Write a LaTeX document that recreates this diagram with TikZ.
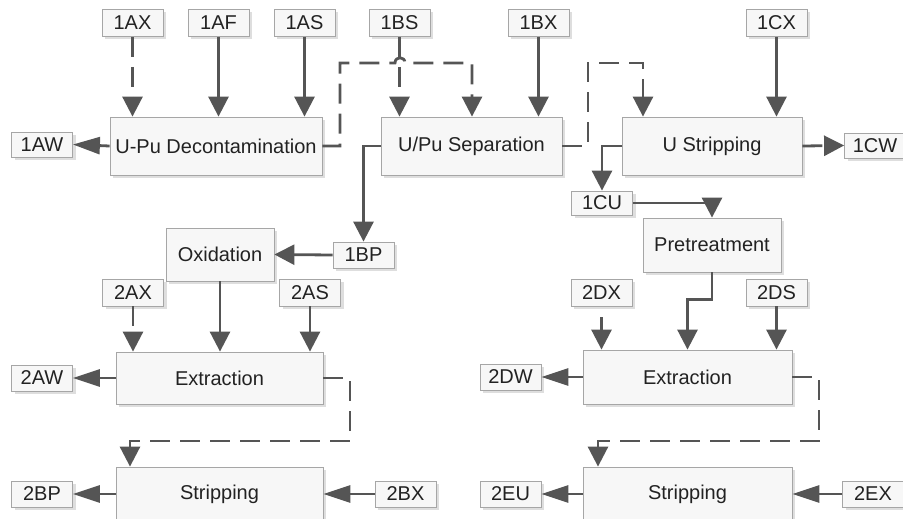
\documentclass[tikz,border=0pt]{standalone}
\usepackage{fontspec}
\setmainfont{Liberation Sans}
\usetikzlibrary{arrows.meta,shadows}
\definecolor{linegray}{HTML}{555555}
\definecolor{boxline}{HTML}{A6A6A6}
\definecolor{boxfill}{HTML}{F7F7F7}
\definecolor{shade}{HTML}{DEDEDE}
\definecolor{inkgray}{HTML}{222222}
\begin{document}
\begin{tikzpicture}[x=1pt,y=-1pt,
  base/.style={draw=boxline, line width=0.8pt, fill=boxfill, text=inkgray,
    inner sep=0pt, font=\fontsize{20}{22}\selectfont,
    drop shadow={shadow xshift=3pt, shadow yshift=-3pt, fill=shade, opacity=1}},
  tag/.style={base, minimum width=61pt, minimum height=27pt},
  unit/.style={base},
  flow/.style={draw=linegray, line width=2.8pt,
    -{Triangle[length=20pt,width=20pt]}},
  outflow/.style={draw=linegray, line width=2.8pt,
    -{Triangle[length=27pt,width=17pt]}},
  dashflow/.style={flow, dash pattern=on 20pt off 10pt},
]
\useasboundingbox (0,0) rectangle (903,519);

% process units
\node[unit, minimum width=212pt, minimum height=58pt] (decon) at (216,146) {U-Pu Decontamination};
\node[unit, minimum width=181pt, minimum height=58pt] (usep) at (471.5,146) {U/Pu Separation};
\node[unit, minimum width=180pt, minimum height=58pt] (ustrip) at (712,146) {U Stripping};
\node[unit, minimum width=108pt, minimum height=53pt] (oxid) at (220,254.5) {Oxidation};
\node[unit, minimum width=138pt, minimum height=54pt] (pret) at (712,245) {Pretreatment};
\node[unit, minimum width=207pt, minimum height=52pt] (extrL) at (219.5,378) {Extraction};
\node[unit, minimum width=209pt, minimum height=54pt] (extrR) at (687.5,377) {Extraction};
\node[unit, minimum width=207pt, minimum height=54pt] (stripL) at (219.5,494) {Stripping};
\node[unit, minimum width=209pt, minimum height=54pt] (stripR) at (687.5,494) {Stripping};

% stream tags
\node[tag] (t1AX) at (132.5,23) {1AX};
\node[tag] (t1AF) at (218.5,23) {1AF};
\node[tag] (t1AS) at (304.5,23) {1AS};
\node[tag] (t1BS) at (399.5,23) {1BS};
\node[tag] (t1BX) at (538.5,23) {1BX};
\node[tag] (t1CX) at (776.5,23) {1CX};
\node[tag, minimum height=25pt] (t1AW) at (42,144.5) {1AW};
\node[tag, minimum height=25pt] (t1CW) at (875,145.5) {1CW};
\node[tag, minimum height=24pt] (t1CU) at (602,203) {1CU};
\node[tag, minimum height=26pt] (t1BP) at (363.5,255) {1BP};
\node[tag] (t2AX) at (133,292.5) {2AX};
\node[tag] (t2AS) at (310,292.5) {2AS};
\node[tag, minimum height=26pt] (t2AW) at (42,378) {2AW};
\node[tag, minimum height=26pt] (t2BP) at (42,494) {2BP};
\node[tag, minimum height=26pt] (t2BX) at (405.5,494) {2BX};
\node[tag] (t2DX) at (601.5,292.5) {2DX};
\node[tag] (t2DS) at (776.5,292.5) {2DS};
\node[tag, minimum height=26pt] (t2DW) at (510.5,377) {2DW};
\node[tag, minimum height=26pt] (t2EU) at (510.5,494) {2EU};
\node[tag, minimum height=26pt] (t2EX) at (873,494) {2EX};

% bend points of the routed streams
\coordinate (dA) at (340,63);
\coordinate (hopL) at (395,63);
\coordinate (hopR) at (405,63);
\coordinate (dB) at (472,63);
\coordinate (sA) at (588,63);
\coordinate (sB) at (643,63);
\coordinate (eL) at (350,441);
\coordinate (eL2) at (130,441);
\coordinate (eR) at (819,441);
\coordinate (eR2) at (598,441);
\coordinate (dxs) at (601.5,317);

% first cycle
\draw[dashflow] (t1AX.south) -- (t1AX.south |- decon.north);
\draw[flow] (t1AF.south) -- (t1AF.south |- decon.north);
\draw[flow] (t1AS.south) -- (t1AS.south |- decon.north);
\draw[outflow] (decon.west) -- (t1AW.east);
\draw[dashflow] (t1BS.south) -- (t1BS.south |- usep.north);
\draw[dashflow] (decon.east) -| (dA) -- (hopL)
  .. controls (395,56) and (405,56) .. (hopR) -- (dB) -- (dB |- usep.north);
\draw[flow] (t1BX.south) -- (t1BX.south |- usep.north);
\draw[dashflow] (usep.east) -| (sA) -- (sB) -- (sB |- ustrip.north);
\draw[flow] (t1CX.south) -- (t1CX.south |- ustrip.north);
\draw[dashflow] (ustrip.east) -- (t1CW.west);
\draw[flow] (ustrip.west) -| (t1CU.north);
\draw[flow] (t1CU.east) -| (pret.north);
\draw[flow] (usep.west) -| (t1BP.north);
\draw[flow] (t1BP.west) -- (oxid.east);

% plutonium line
\draw[flow] (oxid.south) -- (oxid.south |- extrL.north);
\draw[dashflow] (t2AX.south) -- (t2AX.south |- extrL.north);
\draw[flow] (t2AS.south) -- (t2AS.south |- extrL.north);
\draw[outflow] (extrL.west) -- (t2AW.east);
\draw[dashflow] (extrL.east) -| (eL) -- (eL2) -- (eL2 |- stripL.north);
\draw[outflow] (stripL.west) -- (t2BP.east);
\draw[outflow] (t2BX.west) -- (stripL.east);

% uranium line
\draw[flow] (pret.south) -- ++(0,27) -| (extrR.north);
\draw[flow] (dxs) -- (dxs |- extrR.north);
\draw[flow] (t2DS.south) -- (t2DS.south |- extrR.north);
\draw[outflow] (extrR.west) -- (t2DW.east);
\draw[dashflow] (extrR.east) -| (eR) -- (eR2) -- (eR2 |- stripR.north);
\draw[outflow] (stripR.west) -- (t2EU.east);
\draw[outflow] (t2EX.west) -- (stripR.east);
\end{tikzpicture}
\end{document}
